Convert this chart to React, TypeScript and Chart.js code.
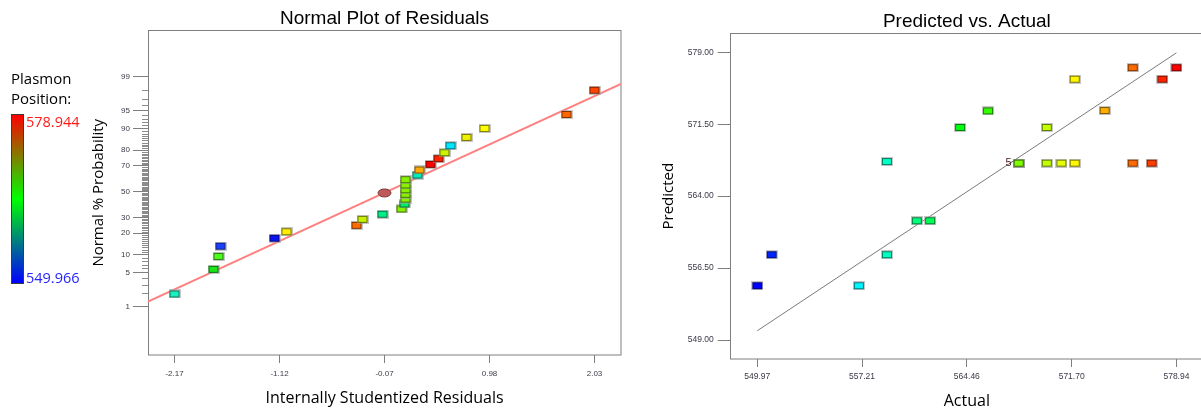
import React, { useEffect, useRef } from "react";
import { Chart, registerables } from "chart.js";

Chart.register(...registerables);

// ---------- Normal plot of residuals ----------
const RESIDUALS = [-2.17, -1.78, -1.73, -1.71, -1.17, -1.05, -0.35, -0.29, -0.09, 0.1, 0.13, 0.14, 0.14, 0.14, 0.14, 0.14, 0.26, 0.28, 0.39, 0.47, 0.53, 0.59, 0.75, 0.93, 1.75, 2.03];
const NORMAL_PCT = [1.92, 5.8, 9.5, 13.5, 17.3, 20.9, 24.8, 28.8, 32.4, 36.3, 40.2, 44.1, 47.9, 51.6, 55.4, 59.6, 63.2, 67.0, 71.0, 74.8, 78.5, 82.4, 86.4, 90.0, 94.1, 98.0];
const RESIDUAL_COLORS = ["#19f0c0", "#19e619", "#4dff1a", "#1a40ff", "#0a14f0", "#ffee00", "#ff6a00", "#c8f000", "#00ee88", "#88f000", "#00ee66", "#88f000", "#88f000", "#88f000", "#88f000", "#88f000", "#00eebb", "#ffaa00", "#ff0000", "#ff2200", "#ccf000", "#00e8ff", "#eef000", "#ffff00", "#ff6600", "#ff4400"];
const CENTER_RESIDUAL = [-0.07];
const CENTER_PCT = [49];
const FIT_RESIDUAL = [-2.435, 2.295];
const FIT_PCT = [1.3, 98.54];
const RES_MIN = -2.435;
const RES_MAX = 2.295;
const RES_TICKS = [-2.17, -1.12, -0.07, 0.98, 2.03];
const RES_TICK_LABELS = ["-2.17", "-1.12", "-0.07", "0.98", "2.03"];
const PROB_MAJOR = [1, 5, 10, 20, 30, 50, 70, 80, 90, 95, 99];
const PROB_MINOR_RANGE = [2, 98];
const Z_MIN = -3.306;
const Z_MAX = 3.263;

// ---------- Predicted vs actual ----------
const ACTUAL = [549.97, 550.96, 556.99, 558.93, 558.93, 561.0, 561.92, 563.99, 565.92, 568.04, 568.04, 568.04, 568.04, 568.04, 569.98, 569.98, 570.99, 571.91, 571.91, 573.98, 575.92, 575.92, 577.23, 577.97, 578.94];
const PREDICTED = [554.66, 557.89, 554.66, 567.61, 557.89, 561.43, 561.43, 571.16, 572.89, 567.44, 567.44, 567.44, 567.44, 567.44, 571.16, 567.44, 567.44, 567.44, 576.19, 572.93, 577.4, 567.44, 567.44, 576.19, 577.4];
const PLASMON_RANGE = [549.966, 578.944];
const ACT_MIN = 548.13;
const ACT_MAX = 580.78;
const ACT_TICKS = [549.966, 557.21, 564.455, 571.7, 578.944];
const ACT_TICK_LABELS = ["549.97", "557.21", "564.46", "571.70", "578.94"];
const PRED_MIN = 547.02;
const PRED_MAX = 580.98;
const PRED_TICKS = [549, 556.5, 564, 571.5, 579];
const PRED_TICK_LABELS = ["549.00", "556.50", "564.00", "571.50", "579.00"];

const SANS = "'Liberation Sans', Arial, sans-serif";
const OPEN = "'Open Sans', 'Noto Sans', sans-serif";

function probit(p: number): number {
  const a = [-39.69683028665376, 220.9460984245205, -275.9285104469687, 138.357751867269, -30.66479806614716, 2.506628277459239];
  const b = [-54.47609879822406, 161.5858368580409, -155.6989798598866, 66.80131188771972, -13.28068155288572];
  const c = [-0.007784894002430293, -0.3223964580411365, -2.400758277161838, -2.549671348133058, 4.374664141464968, 2.938163982698783];
  const d = [0.007784695709041462, 0.3224671290700398, 2.445134137142996, 3.754408661907416];
  const pl = 0.02425;
  if (p < pl) {
    const q = Math.sqrt(-2 * Math.log(p));
    return (((((c[0] * q + c[1]) * q + c[2]) * q + c[3]) * q + c[4]) * q + c[5]) / ((((d[0] * q + d[1]) * q + d[2]) * q + d[3]) * q + 1);
  }
  if (p <= 1 - pl) {
    const q = p - 0.5;
    const r = q * q;
    return ((((((a[0] * r + a[1]) * r + a[2]) * r + a[3]) * r + a[4]) * r + a[5]) * q) / (((((b[0] * r + b[1]) * r + b[2]) * r + b[3]) * r + b[4]) * r + 1);
  }
  const q = Math.sqrt(-2 * Math.log(1 - p));
  return -(((((c[0] * q + c[1]) * q + c[2]) * q + c[3]) * q + c[4]) * q + c[5]) / ((((d[0] * q + d[1]) * q + d[2]) * q + d[3]) * q + 1);
}

function plasmonColor(v: number): string {
  const t = Math.min(1, Math.max(0, (v - PLASMON_RANGE[0]) / (PLASMON_RANGE[1] - PLASMON_RANGE[0])));
  const stops: [number, number[]][] = [
    [0, [0, 0, 255]],
    [0.25, [0, 255, 255]],
    [0.5, [0, 255, 0]],
    [0.75, [255, 255, 0]],
    [1, [255, 0, 0]],
  ];
  for (let i = 1; i < stops.length; i++) {
    if (t <= stops[i][0]) {
      const [t0, c0] = stops[i - 1];
      const [t1, c1] = stops[i];
      const f = (t - t0) / (t1 - t0);
      const c = c0.map((v0, k) => Math.round(v0 + (c1[k] - v0) * f));
      return `rgb(${c[0]},${c[1]},${c[2]})`;
    }
  }
  return "rgb(255,0,0)";
}

const markerCache = new Map<string, HTMLCanvasElement>();
function rectMarker(color: string): HTMLCanvasElement {
  const hit = markerCache.get(color);
  if (hit) return hit;
  const c = document.createElement("canvas");
  c.width = 12;
  c.height = 9;
  const g = c.getContext("2d")!;
  g.fillStyle = "rgba(160,160,160,0.6)";
  g.fillRect(0, 0, 12, 9);
  g.fillStyle = color;
  g.fillRect(1, 1, 10, 7);
  g.strokeStyle = "rgba(0,0,0,0.5)";
  g.lineWidth = 1;
  g.strokeRect(1.5, 1.5, 9, 6);
  markerCache.set(color, c);
  return c;
}

function ellipseMarker(): HTMLCanvasElement {
  const c = document.createElement("canvas");
  c.width = 15;
  c.height = 10;
  const g = c.getContext("2d")!;
  g.beginPath();
  g.ellipse(7.5, 5, 6.5, 4, 0, 0, Math.PI * 2);
  g.fillStyle = "#c05a5a";
  g.fill();
  g.strokeStyle = "#7a3a3a";
  g.lineWidth = 1;
  g.stroke();
  return c;
}

const plotBox = {
  id: "plotBox",
  beforeDatasetsDraw(chart: any) {
    const { left, top, right, bottom } = chart.chartArea;
    const ctx = chart.ctx;
    ctx.save();
    ctx.strokeStyle = "#7f7f7f";
    ctx.lineWidth = 1;
    const l = Math.floor(left) + 0.5;
    const t = Math.floor(top) + 0.5;
    ctx.strokeRect(l, t, Math.round(right) - l, Math.round(bottom) - t);
    ctx.restore();
  },
};

const minorProbTicks = {
  id: "minorProbTicks",
  afterDraw(chart: any) {
    const y = chart.scales.y;
    const x0 = Math.floor(chart.chartArea.left);
    const ctx = chart.ctx;
    ctx.save();
    ctx.strokeStyle = "#8c8c8c";
    ctx.lineWidth = 1;
    ctx.beginPath();
    for (let p = PROB_MINOR_RANGE[0]; p <= PROB_MINOR_RANGE[1]; p++) {
      if (PROB_MAJOR.includes(p)) continue;
      const py = Math.round(y.getPixelForValue(probit(p / 100))) + 0.5;
      ctx.moveTo(x0 - 6, py);
      ctx.lineTo(x0, py);
    }
    ctx.stroke();
    ctx.restore();
  },
};

const duplicateCount = {
  id: "duplicateCount",
  afterDatasetsDraw(chart: any) {
    const meta = chart.getDatasetMeta(0);
    const data = chart.data.datasets[0].data as { x: number; y: number }[];
    const groups = new Map<string, number[]>();
    data.forEach((pt, i) => {
      const k = pt.x + "," + pt.y;
      groups.set(k, (groups.get(k) || []).concat(i));
    });
    const ctx = chart.ctx;
    ctx.save();
    groups.forEach((idx) => {
      if (idx.length < 2) return;
      const el = meta.data[idx[0]];
      ctx.fillStyle = "#4a2020";
      ctx.font = `11px ${SANS}`;
      ctx.textAlign = "right";
      ctx.textBaseline = "middle";
      ctx.fillText(String(idx.length), el.x - 7, el.y);
      ctx.strokeStyle = "#555";
      ctx.lineWidth = 0.8;
      ctx.beginPath();
      ctx.moveTo(el.x - 7, el.y - 1);
      ctx.lineTo(el.x - 3, el.y - 3.5);
      ctx.stroke();
    });
    ctx.restore();
  },
};

function useChart(ref: React.RefObject<HTMLCanvasElement>, build: (c: HTMLCanvasElement) => Chart) {
  useEffect(() => {
    if (!ref.current) return;
    const chart = build(ref.current);
    return () => chart.destroy();
  }, []);
}

function buildNormalPlot(canvas: HTMLCanvasElement): Chart {
  return new Chart(canvas, {
    type: "scatter",
    data: {
      datasets: [
        {
          label: "Residuals",
          data: RESIDUALS.map((r, i) => ({ x: r, y: probit(NORMAL_PCT[i] / 100) })),
          pointStyle: (ctx: any) => rectMarker(RESIDUAL_COLORS[ctx.dataIndex] || "#888"),
          pointRadius: 6,
          order: 0,
        },
        {
          label: "Center",
          data: CENTER_RESIDUAL.map((r, i) => ({ x: r, y: probit(CENTER_PCT[i] / 100) })),
          pointStyle: ellipseMarker(),
          pointRadius: 6,
          order: 1,
        },
        {
          type: "line",
          label: "Normal line",
          data: FIT_RESIDUAL.map((r, i) => ({ x: r, y: probit(FIT_PCT[i] / 100) })),
          borderColor: "#ff8080",
          borderWidth: 2,
          pointRadius: 0,
          showLine: true,
          fill: false,
          order: 2,
        } as any,
      ],
    },
    options: {
      responsive: false,
      animation: false,
      devicePixelRatio: 1,
      layout: { padding: { left: 0, right: 19, top: 0, bottom: 0 } },
      plugins: {
        legend: { display: false },
        tooltip: { enabled: false },
        title: {
          display: true,
          text: "Normal Plot of Residuals",
          fullSize: false,
          color: "#000",
          font: { family: SANS, size: 19, weight: "normal", lineHeight: 1.2 },
          padding: { top: 7, bottom: 0.7 },
        },
      },
      scales: {
        x: {
          type: "linear",
          min: RES_MIN,
          max: RES_MAX,
          afterBuildTicks: (s: any) => {
            s.ticks = RES_TICKS.map((v) => ({ value: v }));
          },
          afterFit: (s: any) => {
            s.height = 57;
          },
          ticks: {
            autoSkip: false,
            maxRotation: 0,
            padding: 5.5,
            color: "#3a3a48",
            font: { family: SANS, size: 8 },
            callback: (_v: any, i: number) => RES_TICK_LABELS[i],
          },
          grid: { display: true, drawOnChartArea: false, drawTicks: true, tickLength: 8, color: "#7f7f7f" },
          border: { display: false },
          title: {
            display: true,
            text: "Internally Studentized Residuals",
            color: "#000",
            font: { family: OPEN, size: 16, lineHeight: 1.2 },
            padding: { top: 0, bottom: 4.1 },
          },
        },
        y: {
          type: "linear",
          min: Z_MIN,
          max: Z_MAX,
          afterBuildTicks: (s: any) => {
            s.ticks = PROB_MAJOR.map((p) => ({ value: probit(p / 100) }));
          },
          afterFit: (s: any) => {
            s.width = 148;
          },
          ticks: {
            autoSkip: false,
            padding: 3,
            color: "#3a3a48",
            font: { family: SANS, size: 8 },
            callback: (_v: any, i: number) => String(PROB_MAJOR[i]),
          },
          grid: { display: true, drawOnChartArea: false, drawTicks: true, tickLength: 15, color: "#7f7f7f" },
          border: { display: false },
          title: {
            display: true,
            text: "Normal % Probability",
            color: "#000",
            font: { family: OPEN, size: 15, lineHeight: 1.2 },
            padding: { top: 89.5, bottom: 0 },
          },
        },
      },
    } as any,
    plugins: [plotBox, minorProbTicks],
  });
}

function buildPredActual(canvas: HTMLCanvasElement): Chart {
  return new Chart(canvas, {
    type: "scatter",
    data: {
      datasets: [
        {
          label: "Runs",
          data: ACTUAL.map((a, i) => ({ x: a, y: PREDICTED[i] })),
          pointStyle: (ctx: any) => rectMarker(plasmonColor(ACTUAL[ctx.dataIndex])),
          pointRadius: 6,
          order: 0,
        },
        {
          type: "line",
          label: "Predicted = Actual",
          data: PLASMON_RANGE.map((v) => ({ x: v, y: v })),
          borderColor: "#7a7a7a",
          borderWidth: 1,
          pointRadius: 0,
          showLine: true,
          fill: false,
          order: 1,
        } as any,
      ],
    },
    options: {
      responsive: false,
      animation: false,
      devicePixelRatio: 1,
      layout: { padding: { left: 0, right: 6.5, top: 0, bottom: 0 } },
      plugins: {
        legend: { display: false },
        tooltip: { enabled: false },
        title: {
          display: true,
          text: "Predicted vs. Actual",
          fullSize: false,
          color: "#000",
          font: { family: SANS, size: 19, weight: "normal", lineHeight: 1.2 },
          padding: { top: 10.3, bottom: 0.2 },
        },
      },
      scales: {
        x: {
          type: "linear",
          min: ACT_MIN,
          max: ACT_MAX,
          afterBuildTicks: (s: any) => {
            s.ticks = ACT_TICKS.map((v) => ({ value: v }));
          },
          afterFit: (s: any) => {
            s.height = 53;
          },
          ticks: {
            autoSkip: false,
            maxRotation: 0,
            padding: 4.9,
            color: "#3a3a48",
            font: { family: SANS, size: 8.5 },
            callback: (_v: any, i: number) => ACT_TICK_LABELS[i],
          },
          grid: { display: true, drawOnChartArea: false, drawTicks: true, tickLength: 8, color: "#7f7f7f" },
          border: { display: false },
          title: {
            display: true,
            text: "Actual",
            color: "#000",
            font: { family: OPEN, size: 16, lineHeight: 1.2 },
            padding: { top: 0, bottom: 0.7 },
          },
        },
        y: {
          type: "linear",
          min: PRED_MIN,
          max: PRED_MAX,
          afterBuildTicks: (s: any) => {
            s.ticks = PRED_TICKS.map((v) => ({ value: v }));
          },
          afterFit: (s: any) => {
            s.width = 90.7;
          },
          ticks: {
            autoSkip: false,
            padding: 4,
            color: "#3a3a48",
            font: { family: SANS, size: 8.5 },
            callback: (_v: any, i: number) => PRED_TICK_LABELS[i],
          },
          grid: { display: true, drawOnChartArea: false, drawTicks: true, tickLength: 13, color: "#7f7f7f" },
          border: { display: false },
          title: {
            display: true,
            text: "Predicted",
            color: "#000",
            font: { family: OPEN, size: 15, lineHeight: 1.2 },
            padding: { top: 20.2, bottom: 0 },
          },
        },
      },
    } as any,
    plugins: [plotBox, duplicateCount],
  });
}

export default function App() {
  const leftRef = useRef<HTMLCanvasElement>(null);
  const rightRef = useRef<HTMLCanvasElement>(null);
  useChart(leftRef, buildNormalPlot);
  useChart(rightRef, buildPredActual);

  return (
    <div
      style={{
        position: "fixed",
        left: 0,
        top: 0,
        width: 1201,
        height: 412,
        overflow: "hidden",
        background: "#fff",
      }}
    >
      <canvas ref={leftRef} width={640} height={412} style={{ position: "absolute", left: 0, top: 0, width: 640, height: 412 }} />
      <canvas ref={rightRef} width={570} height={412} style={{ position: "absolute", left: 640, top: 0, width: 570, height: 412 }} />
      <div
        style={{
          position: "absolute",
          left: 11,
          top: 67.5,
          fontFamily: OPEN,
          fontSize: 15,
          lineHeight: "20px",
          color: "#000",
          whiteSpace: "nowrap",
        }}
      >
        Plasmon
        <br />
        Position:
      </div>
      <div
        style={{
          position: "absolute",
          left: 11,
          top: 114,
          width: 13,
          height: 170,
          boxSizing: "border-box",
          border: "1px solid #3a3a3a",
          background: "linear-gradient(to bottom, #ff0000, #00ff00, #0000ff)",
        }}
      />
      <div style={{ position: "absolute", left: 26, top: 113, fontFamily: OPEN, fontSize: 14.5, lineHeight: "18px", color: "#ff1a1a" }}>
        578.944
      </div>
      <div style={{ position: "absolute", left: 26, top: 268.7, fontFamily: OPEN, fontSize: 14.5, lineHeight: "18px", color: "#2424ff" }}>
        549.966
      </div>
    </div>
  );
}
